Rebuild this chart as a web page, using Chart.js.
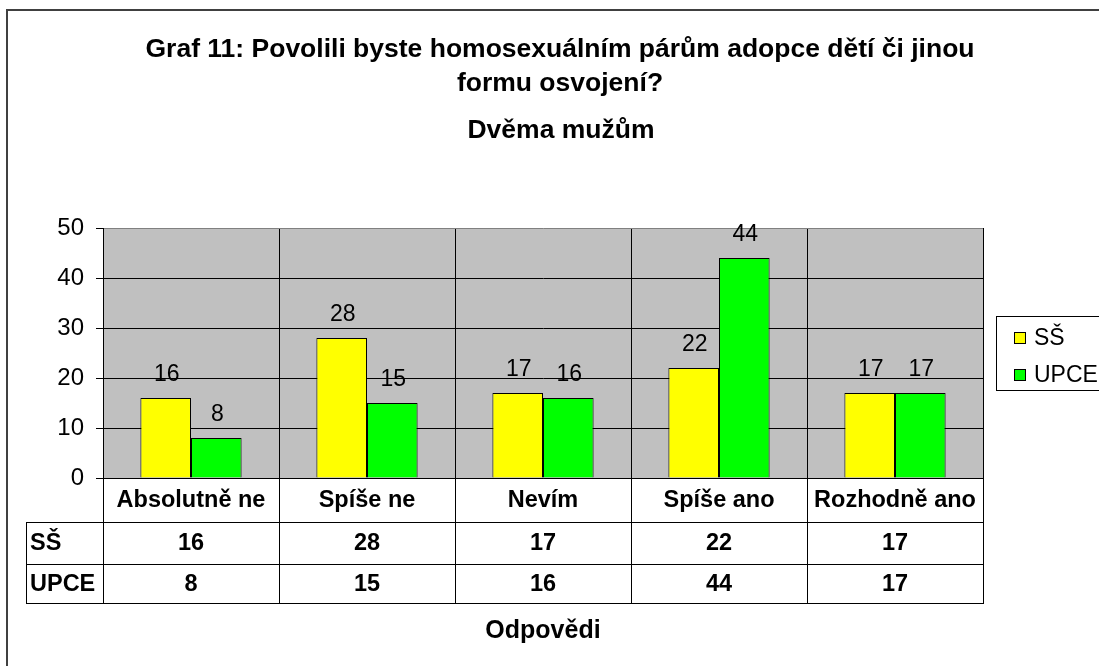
<!DOCTYPE html>
<html>
<head>
<meta charset="utf-8">
<script src="https://cdn.jsdelivr.net/npm/chart.js@4"></script>
<style>
html,body{margin:0;padding:0;background:#fff;overflow:hidden}
#wrap{width:1099px;height:666px;position:relative}
</style>
</head>
<body>
<div id="wrap"><canvas id="c" width="1099" height="666"></canvas></div>
<script>
const titleLines = ["Graf 11: Povolili byste homosexuálním párům adopce dětí či jinou", "formu osvojení?"];
const subtitle = "Dvěma mužům";
const axisTitle = "Odpovědi";
const categories = ["Absolutně ne", "Spíše ne", "Nevím", "Spíše ano", "Rozhodně ano"];
const seriesNames = ["SŠ", "UPCE"];
const valuesSS = [16, 28, 17, 22, 17];
const valuesUPCE = [8, 15, 16, 44, 17];
const yTicks = [0, 10, 20, 30, 40, 50];
const colors = ["#FFFF00", "#00FF00"];

const FONT = "'Liberation Sans', Arial, sans-serif";

const decor = {
  id: 'decor',
  beforeDraw(chart) {
    const ctx = chart.ctx, a = chart.chartArea;
    ctx.save();
    ctx.fillStyle = '#fff';
    ctx.fillRect(0, 0, chart.width, chart.height);
    ctx.fillStyle = '#C0C0C0';
    ctx.fillRect(a.left, a.top, a.right - a.left, a.bottom - a.top);
    ctx.restore();
  },
  afterDatasetsDraw(chart) {
    const ctx = chart.ctx;
    ctx.save();
    ctx.font = '23px ' + FONT;
    ctx.fillStyle = '#000';
    ctx.textAlign = 'center';
    ctx.textBaseline = 'middle';
    chart.data.datasets.forEach((ds, di) => {
      chart.getDatasetMeta(di).data.forEach((bar, i) => {
        ctx.fillText(String(ds.data[i]), bar.x + 1, bar.y - 23);
      });
    });
    ctx.restore();
  },
  afterDraw(chart) {
    const ctx = chart.ctx, a = chart.chartArea;
    const n = categories.length;
    const catW = (a.right - a.left) / n;
    ctx.save();
    // outer frame
    ctx.strokeStyle = '#404040';
    ctx.lineWidth = 2;
    ctx.strokeRect(7, 10, 1200, 800);

    // titles
    ctx.fillStyle = '#000';
    ctx.textAlign = 'center';
    ctx.textBaseline = 'middle';
    ctx.font = 'bold 26.5px ' + FONT;
    ctx.fillText(titleLines[0], 560, 50);
    ctx.fillText(titleLines[1], 560, 84);
    ctx.fillText(subtitle, 561, 131);
    ctx.font = 'bold 25px ' + FONT;
    ctx.fillText(axisTitle, (a.left + a.right) / 2, 631);

    // data table
    const hTop = a.bottom, r1 = a.bottom + 44, r2 = r1 + 42, r3 = r2 + 39;
    const tLeft = 26;
    ctx.lineWidth = 1;
    ctx.strokeStyle = '#000';
    ctx.beginPath();
    for (let i = 0; i <= n; i++) {
      const x = Math.round(a.left + i * catW) + 0.5;
      ctx.moveTo(x, hTop); ctx.lineTo(x, r3);
    }
    ctx.moveTo(tLeft + 0.5, r1); ctx.lineTo(tLeft + 0.5, r3);
    [r1, r2, r3].forEach(y => { ctx.moveTo(tLeft, y + 0.5); ctx.lineTo(a.right + 1, y + 0.5); });
    ctx.stroke();

    ctx.font = 'bold 23.5px ' + FONT;
    ctx.textBaseline = 'middle';
    ctx.textAlign = 'center';
    categories.forEach((c, i) => {
      const cx = a.left + (i + 0.5) * catW;
      ctx.fillText(c, cx, (hTop + r1) / 2 + 1);
      ctx.fillText(String(valuesSS[i]), cx, (r1 + r2) / 2 + 1);
      ctx.fillText(String(valuesUPCE[i]), cx, (r2 + r3) / 2 + 1);
    });
    ctx.textAlign = 'left';
    ctx.fillText(seriesNames[0], 30, (r1 + r2) / 2 + 1);
    ctx.fillText(seriesNames[1], 30, (r2 + r3) / 2 + 1);

    // legend
    ctx.strokeStyle = '#000';
    ctx.strokeRect(996.5, 316.5, 200, 74);
    ctx.font = '23px ' + FONT;
    const ly = [338, 375];
    seriesNames.forEach((s, i) => {
      ctx.fillStyle = colors[i];
      ctx.fillRect(1014, ly[i] - 6, 12, 12);
      ctx.strokeRect(1014.5, ly[i] - 5.5, 11, 11);
      ctx.fillStyle = '#000';
      ctx.fillText(s, 1034, ly[i] + 1);
    });
    ctx.restore();
  }
};

new Chart(document.getElementById('c'), {
  type: 'bar',
  data: {
    labels: categories,
    datasets: [
      { label: seriesNames[0], data: valuesSS, backgroundColor: colors[0], borderColor: '#000', borderWidth: 1, categoryPercentage: 0.575, barPercentage: 1.0 },
      { label: seriesNames[1], data: valuesUPCE, backgroundColor: colors[1], borderColor: '#000', borderWidth: 1, categoryPercentage: 0.575, barPercentage: 1.0 }
    ]
  },
  options: {
    responsive: false,
    animation: false,
    devicePixelRatio: 1,
    layout: { padding: { left: 6, right: 116, top: 228, bottom: 188 } },
    plugins: { legend: { display: false }, title: { display: false }, tooltip: { enabled: false } },
    scales: {
      x: {
        offset: true,
        afterFit(s) { s.height = 0; },
        ticks: { display: false },
        grid: { display: true, offset: true, drawTicks: false, color: (c) => c.index === categories.length ? '#808080' : '#000', lineWidth: 1 },
        border: { display: true, color: '#000', width: 1 }
      },
      y: {
        min: 0, max: 50,
        afterFit(s) { s.width = 97; },
        afterBuildTicks(s) { s.ticks = yTicks.map(v => ({ value: v })); },
        ticks: { font: { family: FONT, size: 24 }, color: '#000', padding: 12 },
        grid: { color: (c) => c.tick && c.tick.value === 50 ? '#808080' : '#000', tickColor: '#000', tickLength: 7, lineWidth: 1 },
        border: { display: true, color: '#000', width: 1 }
      }
    }
  },
  plugins: [decor]
});
</script>
</body>
</html>
